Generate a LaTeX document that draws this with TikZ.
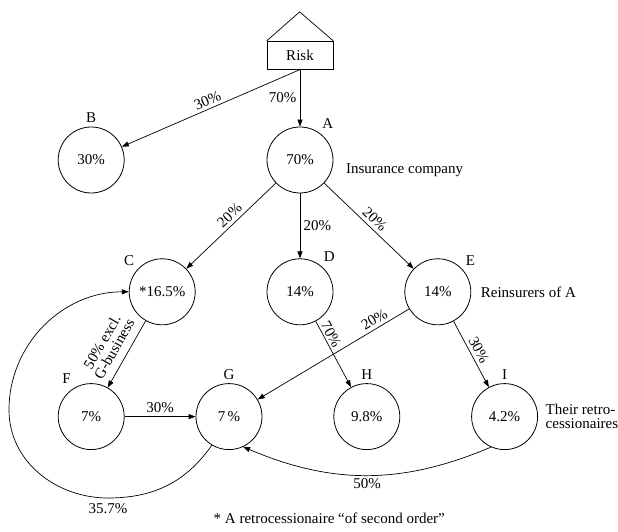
\documentclass[tikz,border=0pt]{standalone}
\usepackage{fontspec}
\setmainfont{Liberation Serif}
\usetikzlibrary{positioning,arrows.meta}

\begin{document}
\begin{tikzpicture}[
    x=1pt, y=1pt, line width=0.7pt,
    node distance=65pt and 71pt,
    every node/.style={font=\fontsize{15}{17}\selectfont},
    share/.style={circle, draw, line width=0.8pt, minimum size=66pt, inner sep=0pt},
    flow/.style={-{Triangle[length=7pt,width=5pt]}},
    note/.style={align=left}
]
    \useasboundingbox (0,0) rectangle (618,532);

    \node[share, label=56:A] (a) at (300,372) {70\%};
    \node[draw, minimum width=66pt, minimum height=28pt, above=57pt of a] (risk) {Risk};
    \draw (risk.north west) -- ++(33,29) -- (risk.north east);
    \node[share, left=142pt of a, label=90:B] (b) {30\%};
    \node[share, below=of a, label=53:D] (d) {14\%};
    \node[share, left=of d, label=137:C] (c) {*16.5\%};
    \node[share, right=of d, label=43:E] (e) {14\%};
    \node[share, below=58pt of d, xshift=-71pt, label=90:G] (g) {7\,\%};
    \node[share, left=of g, label=120:F] (f) {7\%};
    \node[share, right=of g, label=90:H] (h) {9.8\%};
    \node[share, right=of h, label=90:I] (i) {4.2\%};

    \node[note, right=9pt of a, yshift=-10pt] (insurer) {Insurance company};
    \node[note, right=6pt of e] (reinsurers) {Reinsurers of A};
    \node[note, right=4pt of i, font=\fontsize{15}{14}\selectfont] (retro) {Their retro-\\cessionaires};
    \node[anchor=west] (footnote) at (210,14) {* A retrocessionaire “of second order”};

    \draw[flow] (risk) -- node[left] {70\%} (a);
    \draw[flow] (risk.south) -- node[sloped, above] {30\%} (b);
    \draw[flow] (a) -- node[sloped, above, pos=0.45] {20\%} (c);
    \draw[flow] (a) -- node[right] {20\%} (d);
    \draw[flow] (a) -- node[sloped, above] {20\%} (e);
    \draw[flow] (c) -- node[sloped, above=8pt, pos=0.52, inner sep=0pt, align=center,
        font=\fontsize{15}{14}\selectfont] {50\% excl.\\G-business} (f);
    \draw[flow] (d) -- node[sloped, above, pos=0.25, inner sep=2pt] {70\%} (h);
    \draw[flow] (e) -- node[sloped, above, pos=0.2] {20\%} (g);
    \draw[flow] (e) -- node[sloped, above] {30\%} (i);
    \draw[flow] (f) -- node[above] {30\%} (g);
    \draw[flow] (i.246) to[out=203, in=-23] node[below] {50\%} (g.295);

    \coordinate (loop-low) at (108,34);
    \coordinate (loop-left) at (9,122);
    \draw[flow] (g.239) to[out=235, in=0] (loop-low) node[below=2pt] {35.7\%}
        to[out=180, in=-90] (loop-left) to[out=90, in=180] (c.west);
\end{tikzpicture}
\end{document}
